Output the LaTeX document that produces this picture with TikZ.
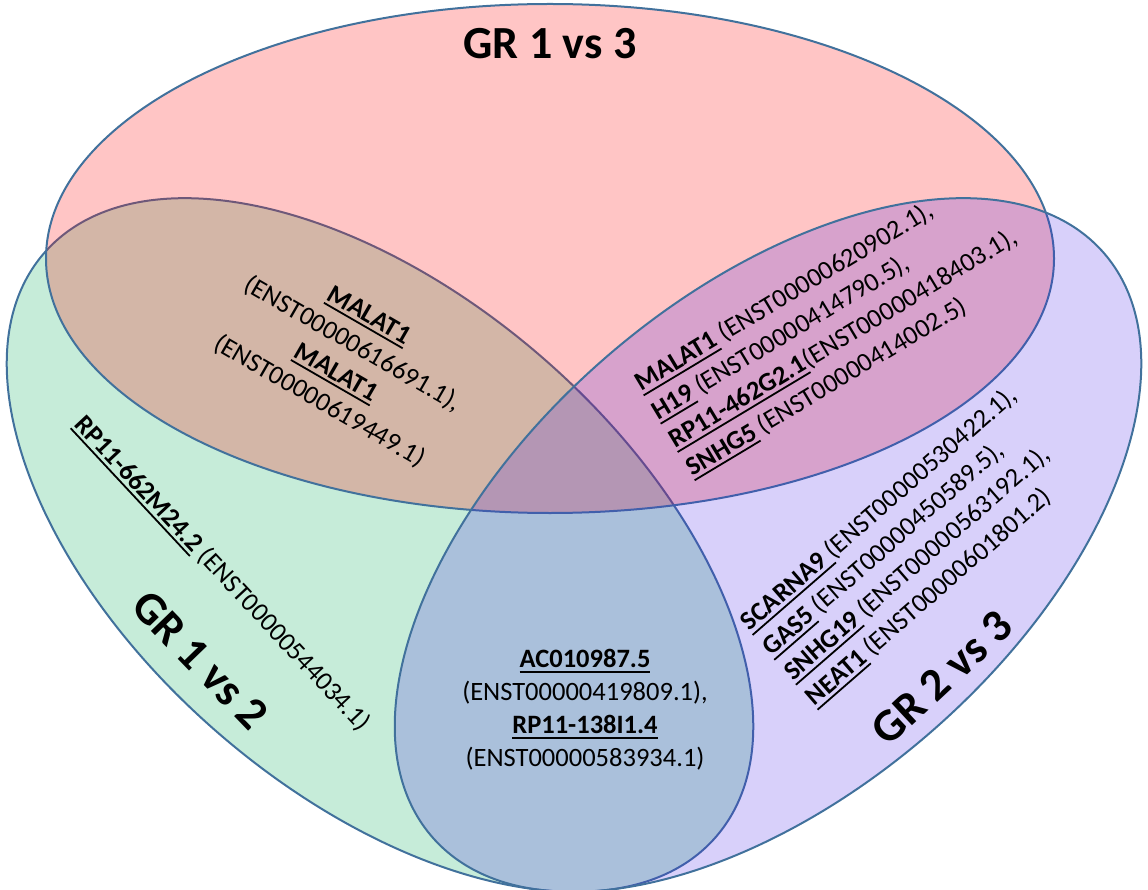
\documentclass[tikz,border=0pt]{standalone}
\usepackage{fontspec}
\setmainfont{Carlito}
\definecolor{setline}{RGB}{65,113,156}
\definecolor{grA}{RGB}{198,236,217}
\definecolor{grB}{RGB}{254,12,12}
\definecolor{grC}{RGB}{69,31,231}
\newsavebox{\genebox}
\newcommand{\Gene}[1]{%
  \sbox{\genebox}{\textbf{#1}}%
  \rlap{\rule[-5pt]{\wd\genebox}{1.8pt}}\usebox{\genebox}%
}

\begin{document}
\begin{tikzpicture}[
    x=1pt,y=-1pt,
    line join=round,
    setedge/.style={draw=setline, line width=2pt},
    setonetwo/.style={setedge, fill=grA},
    setonethree/.style={setedge, fill=grB, fill opacity=0.24},
    settwothree/.style={setedge, fill=grC, fill opacity=0.21},
    idlist/.style={font=\fontsize{26.5}{33}\selectfont, inner sep=0pt},
    grouplab/.style={font=\fontsize{46}{52}\selectfont\bfseries, inner sep=0pt}
]

\useasboundingbox (0,0) rectangle (1148,890);

\coordinate (C12) at (380,545);
\coordinate (C13) at (550,258.5);
\coordinate (C23) at (768,545);


\path[setonetwo, rotate around={-41:(C12)}] (C12) ellipse [x radius=445, y radius=248];
\path[setonethree] (C13) ellipse [x radius=504, y radius=254.5];
\path[settwothree, rotate around={41:(C23)}] (C23) ellipse [x radius=445, y radius=248];


\node[grouplab] (lab13) at (550,44) {GR 1 vs 3};
\node[grouplab, rotate=-46] (lab12) at (200,660) {GR 1 vs 2};
\node[grouplab, rotate=43] (lab23) at (942,678) {GR 2 vs 3};


\node[idlist, align=center, rotate=-30] (ids1213) at (344,359)
    {\Gene{MALAT1}\\(ENST00000616691.1),\\\Gene{MALAT1}\\(ENST00000619449.1)};

\node[idlist, align=left, rotate=31] (ids1323) at (835,325)
    {\Gene{MALAT1} (ENST00000620902.1),\\\Gene{H19} (ENST00000414790.5),\\\Gene{RP11-462G2.1}(ENST00000418403.1),\\\Gene{SNHG5} (ENST00000414002.5)};

\node[idlist, align=left, rotate=41] (ids23) at (912,547)
    {\Gene{SCARNA9\ }(ENST00000530422.1),\\\Gene{GAS5} (ENST00000450589.5),\\\Gene{SNHG19} (ENST00000563192.1),\\\Gene{NEAT1} (ENST00000601801.2)};

\node[idlist, rotate=-47] (ids12) at (222,574)
    {\Gene{RP11-662M24.2} (ENST00000544034.1)};

\node[idlist, align=center] (ids1223) at (585,710)
    {\Gene{AC010987.5}\\(ENST00000419809.1),\\\Gene{RP11-138I1.4}\\(ENST00000583934.1)};
\end{tikzpicture}
\end{document}
